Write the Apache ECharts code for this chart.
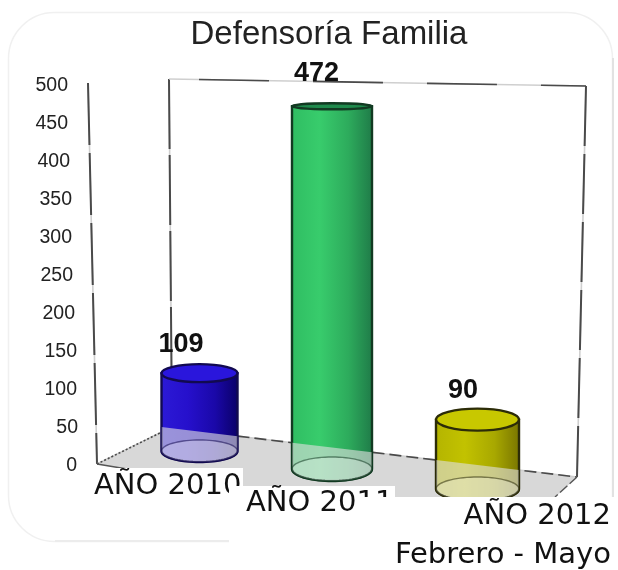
<!DOCTYPE html>
<html>
<head>
<meta charset="utf-8">
<style>html,body{margin:0;padding:0;background:#fff}#c{width:618px;height:570px}</style>
<script src="https://cdn.jsdelivr.net/npm/echarts@6/dist/echarts.min.js"></script>
</head>
<body>
<div id="c"></div>
<script>
const chartTitle = 'Defensoría Familia';
const categories = ['AÑO 2010', 'AÑO 2011', 'AÑO 2012\nFebrero - Mayo'];
const values = [109, 472, 90];
const tickValues = [0, 50, 100, 150, 200, 250, 300, 350, 400, 450, 500];

// Pseudo-3D perspective settings (separate from data)
const cyl = [
  { dx: 0, top: -8, floor: -13, rx: 38, ryT: 9, ryB: 11, lx: -18.5, ly: -29,
    col: ['#2c1ad6', '#2610cc', '#1a08a8', '#0a0066'], topFill: '#2a16dc', line: '#120a50' },
  { dx: -6.5, top: 1, floor: 5, rx: 40, ryT: 3, ryB: 12, lx: -15.5, ly: -33,
    col: ['#2fbd62', '#38cc6c', '#2dab5c', '#1f7a48'], topFill: '#1f8a4c', line: '#123a22' },
  { dx: 0, top: 24, floor: 25, rx: 41.5, ryT: 11, ryB: 12, lx: -14.5, ly: -29,
    col: ['#b4b400', '#c2c200', '#a8a800', '#787400'], topFill: '#c8c800', line: '#2c2c08' }
];
const axisLabelInset = { 500: 10, 450: 10, 400: 8, 350: 6, 300: 6, 250: 5, 200: 3, 150: 1, 100: 1, 50: 0, 0: 1 };
const labelBoxes = [
  { x: 90, y: 468, w: 153, h: 32, tx: 94, ty: 486, align: 'left' },
  { x: 229, y: 486, w: 166, h: 84, tx: 246, ty: 503, align: 'left' },
  { x: 359, y: 497, w: 259, h: 73, tx: 611, ty: 536, align: 'right' }
];
// floor back edge, used to split each cylinder into solid and see-through parts
const backEdge = { x0: 170, y0: 428, x1: 577, y1: 477 };
const edgeY = x => backEdge.y0 + (x - backEdge.x0) * (backEdge.y1 - backEdge.y0) / (backEdge.x1 - backEdge.x0);

const rich = {};
tickValues.forEach(v => {
  rich['s' + v] = { padding: [4, axisLabelInset[v], 0, 0], fontFamily: 'Liberation Sans', fontSize: 19.5, color: '#222' };
});

function ellipseArc(cx, cy, rx, ry, a0, a1, n) {
  const pts = [];
  for (let i = 0; i <= n; i++) {
    const a = a0 + (a1 - a0) * i / n;
    pts.push([cx + rx * Math.cos(a), cy + ry * Math.sin(a)]);
  }
  return pts;
}

function wall(p, q, dash, w) {
  return [
    { type: 'line', shape: { x1: p[0], y1: p[1], x2: q[0], y2: q[1] }, style: { stroke: '#cfcfcf', lineWidth: 1.6 } },
    { type: 'line', shape: { x1: p[0], y1: p[1], x2: q[0], y2: q[1] }, style: { stroke: '#4a4a4a', lineWidth: w || 2, lineDash: dash } }
  ];
}

function renderFrame(params, api) {
  const o = api.coord([0, 0]);
  const t = api.coord([0, 500]);
  const ox = params.coordSys.x - 33; // front-left foot of the box
  const oy = o[1];
  const children = [
    { type: 'rect', shape: { x: 8.5, y: 12.5, width: 604, height: 529, r: 46 }, style: { fill: 'none', stroke: '#f0f0f0', lineWidth: 1.5 } },
    { type: 'line', shape: { x1: 613, y1: 58, x2: 613, y2: 497 }, style: { stroke: '#e2e2e2', lineWidth: 2 } },
    { type: 'line', shape: { x1: 55, y1: 541, x2: 229, y2: 541 }, style: { stroke: '#ececec', lineWidth: 2 } },
    { type: 'polygon', shape: { points: [[ox, oy], [backEdge.x0, backEdge.y0], [backEdge.x1, backEdge.y1], [520, 530]] }, style: { fill: '#d8d8d8' } }
  ];
  children.push(...wall([88, t[1] - 1], [ox, oy], [62, 8]));
  children.push(...wall([169, t[1] - 5], [backEdge.x0 + 2, backEdge.y0], [70, 6]));
  children.push(...wall([169, t[1] - 5], [586, t[1] + 2], [0, 30, 70, 14], 1.6));
  children.push(...wall([586, t[1] + 2], [backEdge.x1, backEdge.y1], [60, 8]));
  children.push(...wall([ox, oy], [backEdge.x0, backEdge.y0], [2, 2], 1.6));
  children.push(...wall([backEdge.x0, backEdge.y0], [backEdge.x1, backEdge.y1], [12, 5], 1.6));
  children.push({ type: 'line', shape: { x1: backEdge.x1, y1: backEdge.y1, x2: 555, y2: 497 }, style: { stroke: '#555', lineWidth: 1.4, lineDash: [10, 3] } });
  children.push({ type: 'line', shape: { x1: ox, y1: oy, x2: ox + 30, y2: oy + 5 }, style: { stroke: '#555', lineWidth: 1.4 } });
  return { type: 'group', children };
}

function renderCylinder(params, api) {
  const i = api.value(0);
  const v = api.value(1);
  const c = cyl[i];
  const cx = api.coord([i, 0])[0] + c.dx;
  const yTop = api.coord([i, v])[1] + c.top;
  const yBase = api.coord([i, 0])[1] + c.floor;
  const xL = cx - c.rx, xR = cx + c.rx;
  const bottomArc = ellipseArc(cx, yBase, c.rx, c.ryB, 0, Math.PI, 36);
  const lineWidth = 2.4;
  const body = [[xL, yTop], [xR, yTop]].concat(bottomArc);
  const seeThrough = [[xL, edgeY(xL)], [xR, edgeY(xR)]].concat(bottomArc);
  return {
    type: 'group',
    children: [
      {
        type: 'polygon', shape: { points: body },
        style: {
          fill: { type: 'linear', x: 0, y: 0, x2: 1, y2: 0, colorStops: [
            { offset: 0, color: c.col[0] }, { offset: 0.35, color: c.col[1] },
            { offset: 0.7, color: c.col[2] }, { offset: 1, color: c.col[3] } ] },
          stroke: c.line, lineWidth
        }
      },
      { type: 'polygon', shape: { points: seeThrough }, style: { fill: 'rgba(222,222,222,0.62)' } },
      { type: 'polygon', shape: { points: bottomArc.concat(ellipseArc(cx, yBase, c.rx, c.ryB, Math.PI, 2 * Math.PI, 36)) }, style: { fill: 'rgba(255,255,255,0.25)' } },
      { type: 'polyline', shape: { points: bottomArc }, style: { fill: 'none', stroke: c.line, lineWidth: 2, opacity: 0.75 } },
      { type: 'polyline', shape: { points: ellipseArc(cx, yBase, c.rx, c.ryB, Math.PI, 2 * Math.PI, 36) }, style: { fill: 'none', stroke: c.line, lineWidth: 1.4, opacity: 0.55 } },
      { type: 'line', shape: { x1: xL, y1: edgeY(xL), x2: xL, y2: yBase }, style: { stroke: c.line, lineWidth: 1.5, opacity: 0.6 } },
      { type: 'line', shape: { x1: xR, y1: edgeY(xR), x2: xR, y2: yBase }, style: { stroke: c.line, lineWidth: 1.5, opacity: 0.6 } },
      { type: 'ellipse', shape: { cx, cy: yTop, rx: c.rx, ry: c.ryT }, style: { fill: c.topFill, stroke: c.line, lineWidth } },
      {
        type: 'text',
        style: {
          x: cx + c.lx, y: yTop + c.ly, text: String(v), align: 'center', verticalAlign: 'middle',
          font: 'bold 27px "Liberation Sans"', fill: '#111'
        }
      }
    ]
  };
}

function renderCategoryLabel(params, api) {
  const i = api.value(0);
  const b = labelBoxes[i];
  return {
    type: 'group',
    children: [
      { type: 'rect', shape: { x: b.x, y: b.y, width: b.w, height: b.h }, style: { fill: '#fff' } },
      {
        type: 'text',
        style: {
          x: b.tx, y: b.ty, text: categories[i], align: b.align, verticalAlign: 'middle',
          font: '29px "DejaVu Sans"', lineHeight: 39, fill: '#111'
        }
      }
    ]
  };
}

const chart = echarts.init(document.getElementById('c'), null, { renderer: 'canvas' });
chart.setOption({
  animation: false,
  backgroundColor: '#fff',
  title: {
    text: chartTitle, left: 324, top: 30, textAlign: 'center', textVerticalAlign: 'middle',
    textStyle: { fontFamily: 'Liberation Sans', fontSize: 33, fontWeight: 'normal', color: '#222' }
  },
  grid: { left: 130, top: 84, width: 417, height: 380 },
  xAxis: {
    type: 'category', data: categories,
    axisLine: { show: false }, axisTick: { show: false }, axisLabel: { show: false }, splitLine: { show: false }
  },
  yAxis: {
    type: 'value', min: 0, max: 500, interval: 50, z: 5,
    axisLine: { show: false }, axisTick: { show: false }, splitLine: { show: false },
    axisLabel: {
      margin: 52,
      formatter: v => '{s' + v + '|' + v + '}',
      rich
    }
  },
  series: [
    { type: 'custom', name: 'frame', z: 1, silent: true, clip: false, data: [[0, 0]], renderItem: renderFrame },
    { type: 'custom', name: 'Defensoría Familia', z: 2, clip: false, data: values.map((v, i) => [i, v]), renderItem: renderCylinder },
    { type: 'custom', name: 'labels', z: 3, silent: true, clip: false, data: categories.map((c, i) => [i, 0]), renderItem: renderCategoryLabel }
  ]
});
</script>
</body>
</html>
